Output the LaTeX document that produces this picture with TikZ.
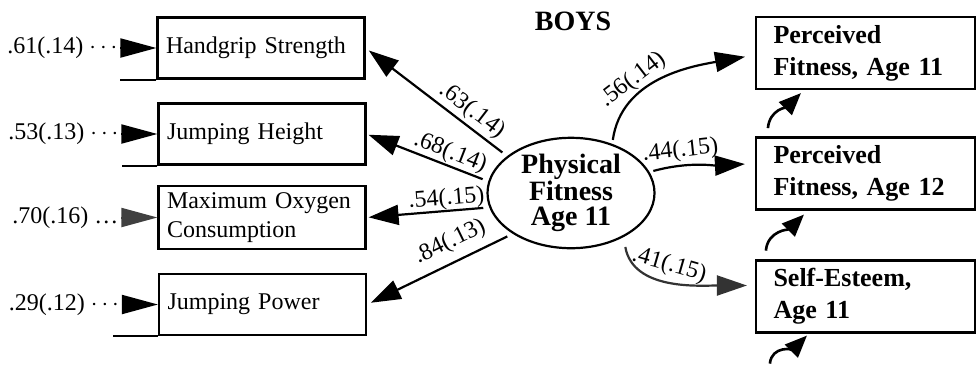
\documentclass[tikz,border=0pt]{standalone}
\usepackage{fontspec}
\setmainfont{Liberation Serif}
\usetikzlibrary{arrows.meta, positioning, shapes.geometric, calc}

\begin{document}
\begin{tikzpicture}[
    x=0.5pt, y=-0.5pt,
    font=\fontsize{12}{14.5}\selectfont,
    line width=1pt,
    measure/.style={rectangle, draw, line width=1.1pt, minimum height=30.5pt, text width=95pt, inner xsep=4.25pt, align=left},
    outcome/.style={rectangle, draw, line width=1.1pt, minimum height=36pt, text width=92pt, inner xsep=8.75pt, align=left, font=\fontsize{13}{16}\selectfont\bfseries},
    latent/.style={ellipse, draw, line width=1.1pt, minimum width=83.5pt, minimum height=55pt, inner sep=0pt, align=center, font=\fontsize{14}{12.5}\selectfont\bfseries},
    errlabel/.style={inner sep=1pt},
    coef/.style={sloped, inner sep=1.5pt},
    path/.style={-{Triangle[length=15pt,width=10pt]}, line width=1.1pt},
    errin/.style={-{Triangle[length=18pt,width=9.5pt]}},
    errup/.style={-{Triangle[length=11pt,width=9pt]}, line width=1.3pt},
]
    \useasboundingbox (0,0) rectangle (977,376);

    % Title
    \node[font=\fontsize{14}{16}\selectfont\bfseries] (boys) at (573,21) {BOYS};

    % Indicators
    \node[measure] (hg) at (261,48) {Handgrip Strength};
    \node[measure] (jh) at (262,134) {Jumping Height};
    \node[measure] (mo) at (262,217.5) {Maximum Oxygen\\Consumption};
    \node[measure] (jp) at (262.5,304.5) {Jumping Power};

    \draw (hg.south west) -- ++(-36,0);
    \draw (jh.south west) -- ++(-35,0);
    \draw (jp.south west) -- ++(-45,0);

    % Error variances
    \node[errlabel, left=18pt of hg] (e1) {.61(.14) $\cdots$};
    \node[errlabel, left=18pt of jh] (e2) {.53(.13) $\cdots$};
    \node[errlabel, left=18pt of mo] (e3) {.70(.16) \ldots};
    \node[errlabel, left=18pt of jp] (e4) {.29(.12) $\cdots$};

    \draw[errin] (e1) -- (hg);
    \draw[errin] (e2) -- (jh);
    \draw[errin, black!75] (e3) -- (mo);
    \draw[errin] (e4) -- (jp);

    % Latent factor
    \node[latent] (pf) at (571,193) {Physical\\Fitness\\Age 11};

    \draw[path, shorten <=3pt, shorten >=2pt] (pf.150) -- node[coef, pos=0.31, above] {.63(.14)} (hg.east);
    \draw[path, shorten <=3pt, shorten >=1pt] (pf.172) -- node[coef, pos=0.35, above, inner sep=0.5pt] {.68(.14)} (jh.east);
    \draw[path, shorten <=3pt, shorten >=1pt] (pf.190) -- node[coef, pos=0.34, above, inner sep=0pt] {.54(.15)} (mo.east);
    \draw[path, shorten <=3pt, shorten >=2pt] (pf.215) -- node[coef, pos=0.37, above, inner sep=4pt] {.84(.13)} (jp.east);

    % Outcomes
    \node[outcome] (p11) at (865.5,53) {Perceived\\Fitness, Age 11};
    \node[outcome] (p12) at (865.5,173.5) {Perceived\\Fitness, Age 12};
    \node[outcome] (se) at (865.5,296.5) {Self-Esteem,\\Age 11};

    \draw[path, shorten <=2pt, shorten >=5pt] (pf.50) to[out=82, in=190] node[coef, pos=0.36, above] {.56(.14)} ([yshift=-1pt]p11.west);
    \draw[path, shorten <=2pt, shorten >=5pt] (pf.15) to[out=15, in=183] node[coef, pos=0.3, above] {.44(.15)} ([yshift=5pt]p12.west);
    \draw[path, black!80, shorten <=5pt, shorten >=4pt] (pf.-40) to[out=-80, in=180] node[coef, pos=0.45, above, text=black] {.41(.15)} ([yshift=5.5pt]se.west);

    % Residuals of outcomes
    \coordinate (r1) at ([xshift=6.5pt,yshift=-19pt]p11.south west);
    \coordinate (r2) at ([xshift=5.5pt,yshift=-20pt]p12.south west);
    \coordinate (r3) at ([xshift=7.5pt,yshift=-15pt]se.south west);

    \draw[errup] (r1) to[out=85, in=225] ([xshift=23pt,yshift=-1.5pt]p11.south west);
    \draw[errup] (r2) to[out=85, in=225] ([xshift=24.5pt,yshift=-2pt]p12.south west);
    \draw[errup] (r3) to[out=85, in=225] ([xshift=26pt,yshift=-1pt]se.south west);
\end{tikzpicture}
\end{document}
